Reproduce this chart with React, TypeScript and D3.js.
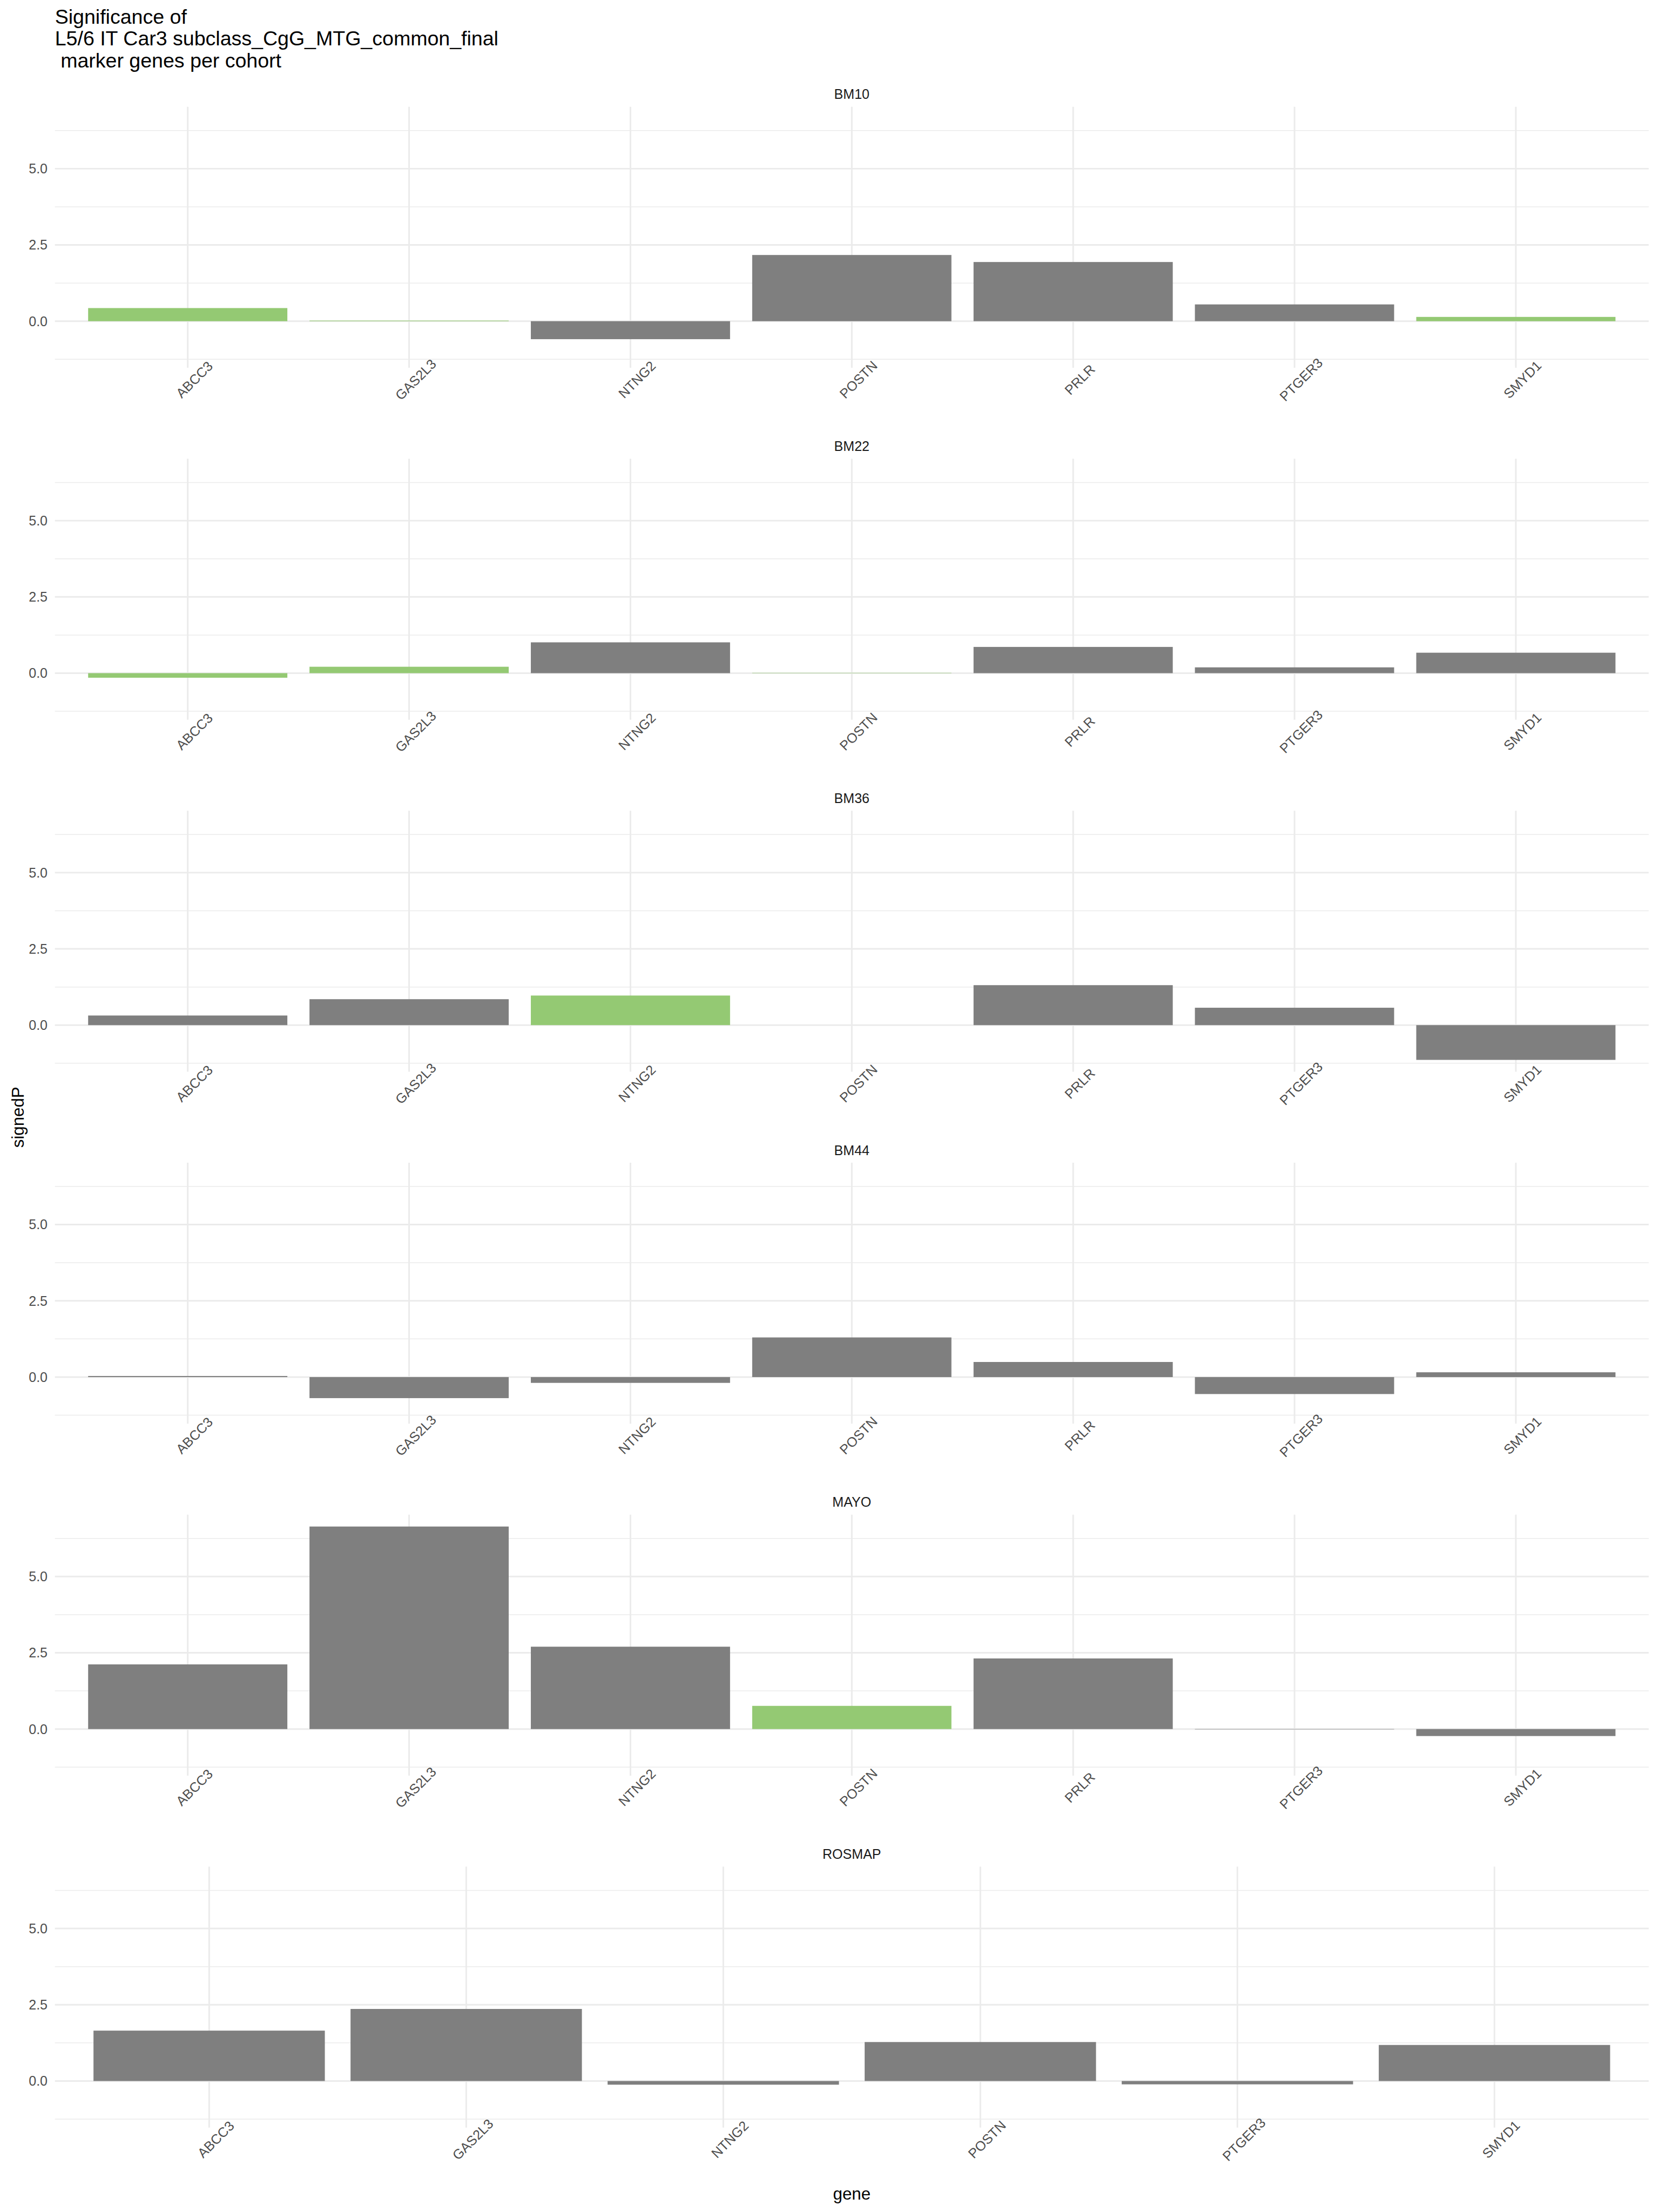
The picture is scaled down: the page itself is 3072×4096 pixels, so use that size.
import React from 'react';
import * as d3 from 'd3';

// ---------------- data ----------------
const titleLines = ['Significance of', 'L5/6 IT Car3 subclass_CgG_MTG_common_final', ' marker genes per cohort'];
const cohorts = ['BM10', 'BM22', 'BM36', 'BM44', 'MAYO', 'ROSMAP'];
const genesStandard = ['ABCC3', 'GAS2L3', 'NTNG2', 'POSTN', 'PRLR', 'PTGER3', 'SMYD1'];
const genesRosmap = ['ABCC3', 'GAS2L3', 'NTNG2', 'POSTN', 'PTGER3', 'SMYD1'];

const bm10Values = [0.43, 0.02, -0.59, 2.17, 1.94, 0.55, 0.14];
const bm22Values = [-0.15, 0.21, 1.01, 0.012, 0.86, 0.19, 0.67];
const bm36Values: (number | null)[] = [0.315, 0.85, 0.97, null, 1.31, 0.57, -1.14];
const bm44Values = [0.036, -0.69, -0.19, 1.3, 0.495, -0.556, 0.157];
const mayoValues = [2.12, 6.64, 2.7, 0.76, 2.315, -0.012, -0.229];
const rosmapValues = [1.652, 2.363, -0.12, 1.278, -0.109, 1.182];

const bm10Highlight = [1, 1, 0, 0, 0, 0, 1];
const bm22Highlight = [1, 1, 0, 1, 0, 0, 0];
const bm36Highlight = [0, 0, 1, 0, 0, 0, 0];
const bm44Highlight = [0, 0, 0, 0, 0, 0, 0];
const mayoHighlight = [0, 0, 0, 1, 0, 0, 0];
const rosmapHighlight = [0, 0, 0, 0, 0, 0];

const majorTicks = [0, 2.5, 5.0];
const minorTicks = [-1.25, 1.25, 3.75, 6.25];

const cohortGenes = [genesStandard, genesStandard, genesStandard, genesStandard, genesStandard, genesRosmap];
const cohortValues = [bm10Values, bm22Values, bm36Values, bm44Values, mayoValues, rosmapValues];
const cohortHighlight = [bm10Highlight, bm22Highlight, bm36Highlight, bm44Highlight, mayoHighlight, rosmapHighlight];

// ---------------- style ----------------
const GRAY = '#7F7F7F';
const GREEN = '#94C973';
const GRID = '#EBEBEB';
const FONT = '"Liberation Sans", Arial, Helvetica, sans-serif';

export default function App() {
  const W = 4500;
  const H = 6000;
  const panelLeft = 149;
  const panelRight = 4472;
  const panelTop0 = 289.7;
  const panelH = 708;
  const stride = 954.7;

  const allVals = cohortValues.flat().filter((v): v is number => v !== null && v !== undefined);
  const vmin = d3.min(allVals) as number;
  const vmax = d3.max(allVals) as number;
  const pad = (vmax - vmin) * 0.05;

  return (
    <svg
      width={3072}
      height={4096}
      viewBox={`0 0 ${W} ${H}`}
      style={{ position: 'absolute', left: 0, top: 0, background: '#fff' }}
      fontFamily={FONT}
    >
      <rect x={0} y={0} width={W} height={H} fill="#fff" />
      {titleLines.map((t, i) => (
        <text key={i} x={149} y={64 + i * 59.5} fontSize={55} fill="#000" style={{ whiteSpace: 'pre' }}>
          {t}
        </text>
      ))}
      {cohorts.map((c, ci) => {
        const top = panelTop0 + ci * stride;
        const bottom = top + panelH;
        const genes = cohortGenes[ci];
        const vals = cohortValues[ci];
        const hl = cohortHighlight[ci];
        const y = d3.scaleLinear().domain([vmin - pad, vmax + pad]).range([bottom, top]);
        const x = d3
          .scaleBand<string>()
          .domain(genes)
          .range([panelLeft, panelRight])
          .paddingInner(0.1)
          .paddingOuter(0.15);
        const bw = x.bandwidth();
        const fmt = d3.format('.1f');
        return (
          <g key={c}>
            {/* strip */}
            <text x={(panelLeft + panelRight) / 2} y={top - 21} fontSize={36.7} fill="#1A1A1A" textAnchor="middle">
              {c}
            </text>
            {/* minor grid */}
            {minorTicks.map((t) => (
              <line key={'mn' + t} x1={panelLeft} x2={panelRight} y1={y(t)} y2={y(t)} stroke={GRID} strokeWidth={2.2} />
            ))}
            {majorTicks.map((t) => (
              <line key={'mj' + t} x1={panelLeft} x2={panelRight} y1={y(t)} y2={y(t)} stroke={GRID} strokeWidth={4.3} />
            ))}
            {genes.map((g) => {
              const gx = (x(g) as number) + bw / 2;
              return <line key={'v' + g} x1={gx} x2={gx} y1={top} y2={bottom} stroke={GRID} strokeWidth={4.3} />;
            })}
            {/* y labels */}
            {majorTicks.map((t) => (
              <text key={'yl' + t} x={129} y={y(t) + 13} fontSize={36.7} fill="#4D4D4D" textAnchor="end">
                {fmt(t)}
              </text>
            ))}
            {/* bars */}
            {genes.map((g, gi) => {
              const v = vals[gi];
              if (v === null || v === undefined) return null;
              const y0 = y(0);
              const y1 = y(v);
              return (
                <rect
                  key={'b' + g}
                  x={x(g) as number}
                  width={bw}
                  y={Math.min(y0, y1)}
                  height={Math.max(Math.abs(y1 - y0), 0.0001)}
                  fill={hl[gi] ? GREEN : GRAY}
                />
              );
            })}
            {/* x labels */}
            {genes.map((g) => {
              const gx = (x(g) as number) + bw / 2;
              const lx = gx + 27;
              const ly = bottom + 41;
              return (
                <text
                  key={'xl' + g}
                  x={lx}
                  y={ly}
                  fontSize={36.7}
                  fill="#4D4D4D"
                  textAnchor="middle"
                  transform={`rotate(-45 ${lx} ${ly})`}
                >
                  {g}
                </text>
              );
            })}
          </g>
        );
      })}
      <text x={(panelLeft + panelRight) / 2} y={5966} fontSize={45.8} fill="#000" textAnchor="middle">
        gene
      </text>
      <text
        x={64}
        y={(panelTop0 + panelTop0 + 5 * stride + panelH) / 2}
        fontSize={45.8}
        fill="#000"
        textAnchor="middle"
        transform={`rotate(-90 64 ${(panelTop0 + panelTop0 + 5 * stride + panelH) / 2})`}
      >
        signedP
      </text>
    </svg>
  );
}
